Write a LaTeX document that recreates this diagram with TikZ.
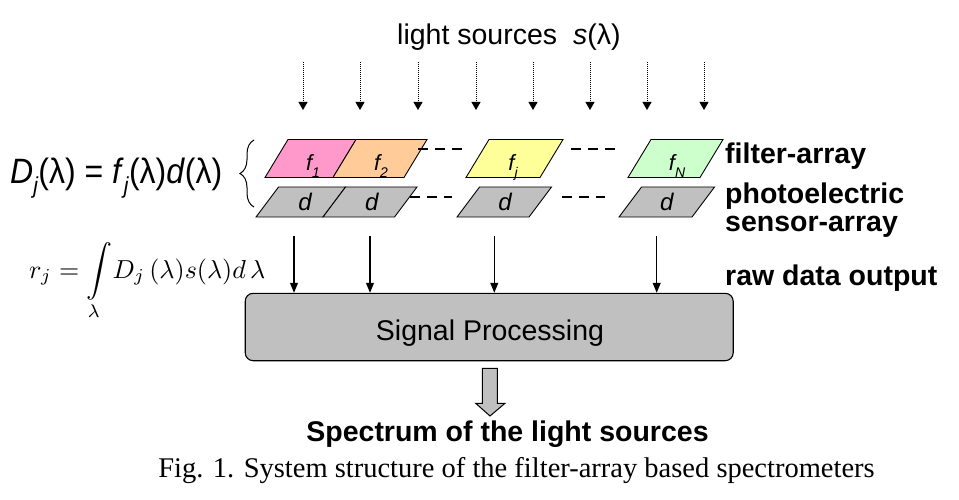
\documentclass[tikz,border=0pt]{standalone}
\usepackage{fontspec}
\setmainfont{Liberation Serif}
\newfontfamily\arial{Liberation Sans}
\usetikzlibrary{arrows.meta,decorations.pathreplacing}
\definecolor{fpink}{HTML}{FF99CC}
\definecolor{forange}{HTML}{FFCC99}
\definecolor{fyellow}{HTML}{FFFF99}
\definecolor{fgreen}{HTML}{CCFFCC}
\definecolor{dgray}{HTML}{C0C0C0}
% cell: fill, bottom-left x, bottom-right x, y top, y bottom, slant
\newcommand\mycell[6]{\draw[cellline,fill=#1] (#2,#5) -- (#3,#5) -- ({#3+#6},#4) -- ({#2+#6},#4) -- cycle;}
\newcommand\mysubA[1]{\raisebox{-0.3em}{\fontsize{14}{14}\selectfont #1}}
\newcommand\mysubB[1]{\raisebox{-0.3em}{\fontsize{21}{21}\selectfont #1}}
\begin{document}
\begin{tikzpicture}[x=1pt,y=-1pt,
  cellline/.style={draw=black,line width=0.9pt},
  dotarrow/.style={line width=0.9pt,dash pattern=on 1pt off 1pt,-{Triangle[width=9pt,length=8pt]}},
  solidarrow/.style={line width=1.1pt,-{Triangle[width=8pt,length=10pt]}},
  dashline/.style={line width=2.6pt,dash pattern=on 10pt off 7pt},
  celltext/.style={inner sep=0pt,anchor=base,font=\arial\itshape\fontsize{22}{22}\selectfont},
  label/.style={inner sep=0pt,anchor=base west,font=\arial\bfseries\fontsize{28.5}{30}\selectfont},
  plain/.style={inner sep=0pt,font=\arial\fontsize{28.5}{30}\selectfont},
  procbox/.style={draw=black,line width=1.1pt,fill=dgray,rounded corners=8pt}]
\useasboundingbox (0,0) rectangle (959,500);

% light sources
\node[plain,anchor=base west] (ls) at (397,45) {light sources\ \ \textit{s}(λ)};
\foreach \i/\x in {1/303,2/360,3/418,4/476,5/533,6/590,7/647,8/704}{
  \coordinate (ds\i) at (\x,62);
  \coordinate (de\i) at (\x,110);
  \draw[dotarrow] (ds\i) -- (de\i);
}

% filter row
\mycell{fpink}{265}{333}{139.5}{177.5}{23}
\mycell{forange}{333}{404}{139.5}{177.5}{23}
\mycell{fyellow}{466}{540}{139.5}{177.5}{23}
\mycell{fgreen}{628}{700}{139.5}{177.5}{23}
\node[celltext] (f1) at (313,171) {f\mysubA{1}};
\node[celltext] (f2) at (381,171) {f\mysubA{2}};
\node[celltext] (fj) at (513,171) {f\mysubA{j}};
\node[celltext] (fN) at (677,171) {f\mysubA{N}};

% sensor row
\mycell{dgray}{256}{323}{187}{217}{22.5}
\mycell{dgray}{323}{394.5}{187}{217}{22.5}
\mycell{dgray}{457}{529}{187}{217}{22.5}
\mycell{dgray}{619}{692}{187}{217}{22.5}
\node[celltext,font=\arial\itshape\fontsize{24}{24}\selectfont] (d1) at (305,210.5) {d};
\node[celltext,font=\arial\itshape\fontsize{24}{24}\selectfont] (d2) at (371.7,210.5) {d};
\node[celltext,font=\arial\itshape\fontsize{24}{24}\selectfont] (dj) at (505,210.5) {d};
\node[celltext,font=\arial\itshape\fontsize{24}{24}\selectfont] (dN) at (666.7,210.5) {d};

% dashes
\coordinate (ta1) at (418,149); \coordinate (tb1) at (462,149);
\coordinate (ta2) at (571,149); \coordinate (tb2) at (615,149);
\coordinate (ba1) at (410,197); \coordinate (bb1) at (452,197);
\coordinate (ba2) at (562,197); \coordinate (bb2) at (605,197);
\draw[dashline] (ta1) -- (tb1);
\draw[dashline] (ta2) -- (tb2);
\draw[dashline] (ba1) -- (bb1);
\draw[dashline] (ba2) -- (bb2);

% brace
\coordinate (brb) at (254,207);
\coordinate (brt) at (254,140);
\draw[line width=1pt,decorate,decoration={brace,amplitude=14pt}] (brb) -- (brt);

% D_j equation
\node[plain,anchor=base west,font=\arial\fontsize{32}{34}\selectfont,yscale=1.1] (deq) at (10,183)
  {\textit{D}\mysubB{\textit{j}}(λ) = \textit{f}\mysubB{\textit{j}}(λ)\textit{d}(λ)};

% r_j equation
\node[inner sep=0pt,anchor=base west] (req) at (29,278)
  {\scalebox{2.6}{$\displaystyle r_j=\int\limits_{\lambda}\! D_j\,(\lambda)s(\lambda)d\,\lambda$}};

% right labels
\node[label] (lf) at (725,163.3) {filter-array};
\node[label] (lp) at (725,203.3) {photoelectric};
\node[label] (lsa) at (725,231.7) {sensor-array};
\node[label] (lr) at (725,285) {raw data output};

% processing box
\node[procbox,minimum width=488pt,minimum height=67.4pt,inner sep=0pt] (box) at (489.2,327) {};
\node[plain,anchor=base] (sp) at (490,340) {Signal Processing};

% solid arrows
\foreach \i/\x in {1/294,2/370,3/494.3,4/656.7}{
  \coordinate (as\i) at (\x,236);
  \draw[solidarrow] (as\i) -- (as\i |- box.north);
}

% hollow output arrow
\draw[line width=1pt,fill=dgray,line join=miter]
  (482.3,368.3) -- (497.3,368.3) -- (497.3,403.3) -- (505,403.3) -- (490,416)
  -- (475.7,403.3) -- (482.3,403.3) -- cycle;

\node[label,anchor=base] (spec) at (507.5,441) {Spectrum of the light sources};
\node[inner sep=0pt,anchor=base,font=\fontsize{28.5}{30}\selectfont] (cap) at (516.5,477)
  {Fig. 1. System structure of the filter-array based spectrometers};
\end{tikzpicture}
\end{document}
